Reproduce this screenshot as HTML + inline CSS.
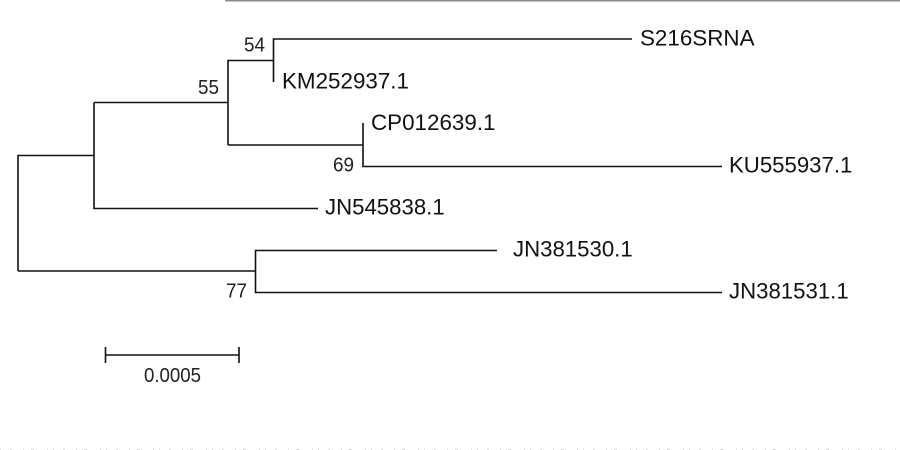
<!DOCTYPE html>
<html>
<head>
<meta charset="utf-8">
<style>
html,body{margin:0;padding:0;background:#fff;width:900px;height:450px;overflow:hidden}
svg{display:block}
text{font-family:"Liberation Sans",Arial,sans-serif;fill:#111}
.l{font-size:22.4px}
.j{font-size:22.2px}
.b{font-size:20.5px;fill:#222}
</style>
</head>
<body>
<svg width="900" height="450" viewBox="0 0 900 450" xmlns="http://www.w3.org/2000/svg">
<rect width="900" height="450" fill="#fff"/>
<rect x="225" y="0" width="675" height="1.5" fill="#8c8c8c"/>
<g stroke="#111" stroke-width="1.6" fill="none">
<path d="M18 271V155.5H94"/>
<path d="M632 39H273.5V82"/>
<path d="M228 145V60.5H273.5"/>
<path d="M94 102.5H228"/>
<path d="M318 208.5H94V102.5"/>
<path d="M228 145H363"/>
<path d="M363 123V166.5H722"/>
<path d="M18 271H255.500"/>
<path d="M497 250.500H255.500V292.500H722"/>
<path d="M105.500 355H239M105.500 347V363M239 347V363"/>
</g>
<text class="l" x="640" y="45.500">S216SRNA</text>
<text class="l" x="282" y="88.500">KM252937.1</text>
<text class="l" x="371" y="130">CP012639.1</text>
<text class="j" x="729" y="172.500">KU555937.1</text>
<text class="j" x="325" y="214.500">JN545838.1</text>
<text class="j" x="513" y="256.500">JN381530.1</text>
<text class="j" x="729" y="298.500">JN381531.1</text>
<text class="b" x="244" y="51.500" textLength="21" lengthAdjust="spacingAndGlyphs">54</text>
<text class="b" x="198" y="94" textLength="21" lengthAdjust="spacingAndGlyphs">55</text>
<text class="b" x="333" y="171.500" textLength="21" lengthAdjust="spacingAndGlyphs">69</text>
<text class="b" x="226" y="297.500" textLength="21" lengthAdjust="spacingAndGlyphs">77</text>
<text class="b" x="144" y="382" textLength="57" lengthAdjust="spacingAndGlyphs">0.0005</text>
<path d="M0 449.500H900" stroke="#aaa" stroke-width="1" stroke-dasharray="1 9 2 11 1 7 3 13 1 5" opacity=".5"/>
</svg>
</body>
</html>
